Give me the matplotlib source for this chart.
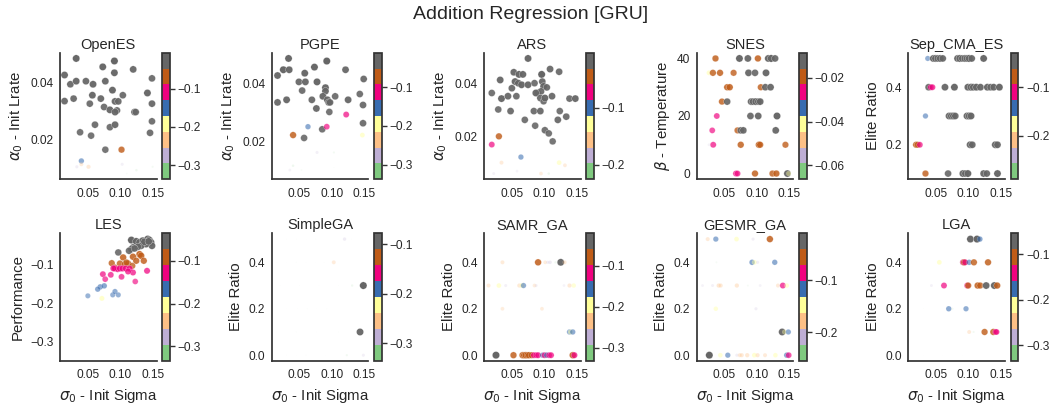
import numpy as np
import matplotlib.pyplot as plt
from matplotlib.colors import Normalize
from matplotlib.cm import ScalarMappable

plt.rcParams['font.family'] = ['Liberation Sans', 'DejaVu Sans']
plt.rcParams['mathtext.fontset'] = 'dejavusans'
plt.rcParams['text.color'] = '#262626'
plt.rcParams['axes.labelcolor'] = '#262626'
plt.rcParams['xtick.color'] = '#262626'
plt.rcParams['ytick.color'] = '#262626'

# ---- OpenES ----
openes_sigma = [0.032, 0.014, 0.091, 0.073, 0.120, 0.091, 0.023, 0.032, 0.047, 0.058,
                0.077, 0.149, 0.014, 0.028, 0.057, 0.053, 0.070, 0.088, 0.092, 0.097,
                0.104, 0.075, 0.084, 0.095, 0.092, 0.122, 0.124, 0.149, 0.142, 0.149,
                0.061, 0.084, 0.092, 0.038, 0.055, 0.146, 0.077,
                0.102, 0.040, 0.051, 0.040, 0.033, 0.103, 0.020, 0.125, 0.150, 0.110]
openes_lrate = [0.0487, 0.0428, 0.0478, 0.0457, 0.0448, 0.0436, 0.0395, 0.0406, 0.0406, 0.0395,
                0.0406, 0.0416, 0.0335, 0.0344, 0.0356, 0.0326, 0.0344, 0.0374, 0.0334, 0.0334,
                0.0356, 0.0314, 0.0304, 0.0302, 0.0296, 0.0296, 0.0296, 0.0326, 0.0364, 0.0263,
                0.0251, 0.0242, 0.0251, 0.0224, 0.0212, 0.0222, 0.0162,
                0.0162, 0.0122, 0.0101, 0.0110, 0.0101, 0.0110, 0.0089, 0.0089, 0.0101, 0.0077]
openes_perf = [-0.012, -0.020, -0.006, -0.015, -0.025, -0.018, -0.030, -0.022, -0.028, -0.019,
               -0.024, -0.033, -0.027, -0.031, -0.021, -0.035, -0.026, -0.017, -0.023, -0.029,
               -0.032, -0.034, -0.020, -0.036, -0.025, -0.030, -0.038, -0.028, -0.016, -0.037,
               -0.033, -0.039, -0.026, -0.040, -0.041, -0.035, -0.043,
               -0.070, -0.150, -0.230, -0.240, -0.275, -0.280, -0.337, -0.300, -0.310, -0.320]

# ---- PGPE ----
pgpe_sigma = [0.033, 0.016, 0.025, 0.034, 0.092, 0.073, 0.121, 0.058, 0.049, 0.059,
              0.077, 0.149, 0.090, 0.090, 0.054, 0.016, 0.030, 0.069, 0.086, 0.105,
              0.093, 0.095, 0.097, 0.125, 0.143, 0.148, 0.076, 0.096, 0.148, 0.085, 0.057,
              0.122, 0.092, 0.063, 0.040, 0.147,
              0.077, 0.103, 0.040, 0.035, 0.022, 0.053, 0.103]
pgpe_lrate = [0.0487, 0.0428, 0.0448, 0.0448, 0.0478, 0.0457, 0.0448, 0.0436, 0.0406, 0.0406,
              0.0406, 0.0416, 0.0386, 0.0374, 0.0376, 0.0335, 0.0344, 0.0344, 0.0356, 0.0356,
              0.0344, 0.0335, 0.0335, 0.0344, 0.0364, 0.0326, 0.0314, 0.0302, 0.0263, 0.0242, 0.0212,
              0.0293, 0.0251, 0.0251, 0.0222, 0.0222,
              0.0162, 0.0162, 0.0116, 0.0101, 0.0089, 0.0101, 0.0110]
pgpe_perf = [-0.020, -0.028, -0.015, -0.024, -0.011, -0.018, -0.030, -0.022, -0.033, -0.026,
             -0.019, -0.035, -0.021, -0.029, -0.038, -0.031, -0.025, -0.034, -0.027, -0.040,
             -0.023, -0.032, -0.036, -0.028, -0.042, -0.037, -0.030, -0.044, -0.039, -0.045, -0.047,
             -0.110, -0.120, -0.150, -0.070, -0.190,
             -0.280, -0.310, -0.300, -0.290, -0.338, -0.320, -0.330]

# ---- ARS ----
ars_sigma = [0.075, 0.053, 0.061, 0.067, 0.109, 0.096, 0.123, 0.032, 0.055, 0.060,
             0.050, 0.065, 0.075, 0.085, 0.097, 0.099, 0.104, 0.090, 0.095, 0.019,
             0.034, 0.044, 0.057, 0.087, 0.094, 0.099, 0.101, 0.112, 0.139, 0.148,
             0.029, 0.048, 0.084, 0.094, 0.124, 0.134, 0.070, 0.121, 0.086, 0.101,
             0.107, 0.113,
             0.030, 0.019, 0.064, 0.123, 0.034, 0.132, 0.095, 0.022, 0.058, 0.107, 0.144]
ars_lrate = [0.0493, 0.0441, 0.0433, 0.0433, 0.0453, 0.0433, 0.0443, 0.0412, 0.0406, 0.0400,
             0.0381, 0.0394, 0.0394, 0.0400, 0.0406, 0.0388, 0.0384, 0.0363, 0.0369, 0.0363,
             0.0342, 0.0351, 0.0351, 0.0363, 0.0344, 0.0332, 0.0344, 0.0351, 0.0342, 0.0342,
             0.0301, 0.0295, 0.0295, 0.0295, 0.0295, 0.0274, 0.0262, 0.0262, 0.0240, 0.0223,
             0.0211, 0.0181,
             0.0200, 0.0169, 0.0122, 0.0101, 0.0101, 0.0091, 0.0060, 0.0060, 0.0069, 0.0060, 0.0091]
ars_perf = [-0.010, -0.015, -0.008, -0.012, -0.018, -0.0023, -0.020, -0.014, -0.011, -0.016,
            -0.019, -0.009, -0.013, -0.022, -0.017, -0.012, -0.021, -0.015, -0.018, -0.024,
            -0.010, -0.016, -0.020, -0.013, -0.019, -0.023, -0.011, -0.017, -0.021, -0.014,
            -0.025, -0.018, -0.022, -0.016, -0.026, -0.020, -0.024, -0.019, -0.027, -0.023,
            -0.025, -0.028,
            -0.045, -0.072, -0.100, -0.130, -0.160, -0.165, -0.168, -0.190, -0.195, -0.200, -0.226]

# ---- SNES ----
snes_sigma = [0.036, 0.073, 0.086, 0.1015, 0.1175, 0.122, 0.128,
              0.026, 0.032, 0.043, 0.064, 0.087, 0.097, 0.114,
              0.054, 0.058, 0.106, 0.113, 0.121,
              0.046, 0.054, 0.091, 0.094, 0.098, 0.102, 0.105,
              0.038, 0.090, 0.102, 0.131,
              0.031, 0.070, 0.075, 0.079, 0.129,
              0.026, 0.0325, 0.075, 0.103, 0.105, 0.144,
              0.0675, 0.070, 0.097, 0.124, 0.130, 0.147, 0.149,
              0.024]
snes_temp = [40, 40, 40, 40, 40, 40, 40,
             35, 35, 35, 35, 35, 35, 35,
             30, 30, 30, 30, 30,
             25, 25, 25, 25, 25, 25, 25,
             20, 20, 20, 20,
             15, 15, 15, 15, 15,
             10, 10, 10, 10, 10, 10,
             0, 0, 0, 0, 0, 0, 0,
             35]
snes_perf = [-0.019, -0.010, -0.012, -0.018, -0.011, -0.0085, -0.013,
             -0.040, -0.020, -0.019, -0.021, -0.012, -0.014, -0.011,
             -0.019, -0.018, -0.020, -0.013, -0.012,
             -0.020, -0.014, -0.012, -0.013, -0.011, -0.014, -0.012,
             -0.027, -0.013, -0.012, -0.010,
             -0.028, -0.021, -0.014, -0.013, -0.012,
             -0.058, -0.026, -0.019, -0.018, -0.020, -0.021,
             -0.027, -0.026, -0.019, -0.020, -0.018, -0.012, -0.042,
             -0.0664]

# ---- Sep_CMA_ES ----
sepcma_sigma = [0.037, 0.0456, 0.049, 0.0524, 0.0563, 0.0602, 0.083, 0.0864, 0.0903, 0.0942,
                0.0976, 0.101, 0.1049, 0.1233,
                0.0383, 0.0417, 0.0442, 0.0636, 0.0782, 0.099, 0.1039, 0.1073, 0.1121, 0.1184,
                0.1291, 0.134, 0.1388, 0.1476,
                0.0335, 0.0699, 0.0733, 0.0767, 0.0796, 0.0976, 0.101, 0.1039,
                0.0189, 0.0214, 0.0248, 0.1024, 0.1058, 0.1413, 0.1447,
                0.0335, 0.0684, 0.0913, 0.0951, 0.099, 0.1233, 0.1282, 0.1447,
                0.015]
sepcma_elite = [0.5, 0.5, 0.5, 0.5, 0.5, 0.5, 0.5, 0.5, 0.5, 0.5,
                0.5, 0.5, 0.5, 0.5,
                0.4, 0.4, 0.4, 0.4, 0.4, 0.4, 0.4, 0.4, 0.4, 0.4,
                0.4, 0.4, 0.4, 0.4,
                0.3, 0.3, 0.3, 0.3, 0.3, 0.3, 0.3, 0.3,
                0.2, 0.2, 0.2, 0.2, 0.2, 0.2, 0.2,
                0.1, 0.1, 0.1, 0.1, 0.1, 0.1, 0.1, 0.1,
                0.1]
sepcma_perf = [-0.150, -0.040, -0.035, -0.045, -0.038, -0.050, -0.042, -0.033, -0.048, -0.037,
               -0.041, -0.030, -0.046, -0.039,
               -0.052, -0.110, -0.105, -0.044, -0.036, -0.040, -0.0295, -0.047, -0.034, -0.043,
               -0.038, -0.049, -0.041, -0.036,
               -0.145, -0.045, -0.050, -0.039, -0.053, -0.042, -0.037, -0.044,
               -0.085, -0.090, -0.110, -0.043, -0.048, -0.040, -0.046,
               -0.080, -0.055, -0.041, -0.047, -0.038, -0.044, -0.051, -0.039,
               -0.289]

# ---- LES (y axis is the performance itself) ----
les_sigma = [0.1172, 0.1247, 0.1298, 0.1348, 0.1424, 0.1449, 0.1475, 0.1490, 0.1399, 0.1323,
             0.1273, 0.1197, 0.1172, 0.1136, 0.1222, 0.0970, 0.1374, 0.1439,
             0.1298, 0.1323, 0.1197, 0.1045, 0.0869, 0.0995, 0.1071, 0.1121, 0.1187, 0.1247,
             0.1364, 0.0919, 0.1096,
             0.0919, 0.0960, 0.0995, 0.1035, 0.1086, 0.1146, 0.0894, 0.1197, 0.1414, 0.0732,
             0.0854, 0.0768, 0.1020, 0.1232, 0.1121,
             0.0692, 0.0753, 0.0652, 0.0500, 0.0884, 0.0919, 0.0970,
             0.0717,
             0.0600]
les_perf = [-0.0382, -0.0416, -0.0442, -0.0399, -0.0357, -0.0382, -0.0442, -0.0528, -0.0485, -0.0528,
            -0.0554, -0.0571, -0.0614, -0.0657, -0.0597, -0.0700, -0.0425, -0.0416,
            -0.0745, -0.0785, -0.0811, -0.0828, -0.0974, -0.0983, -0.1000, -0.0983, -0.1043, -0.0914,
            -0.0914, -0.1086, -0.0957,
            -0.1112, -0.1129, -0.1112, -0.1112, -0.1110, -0.1115, -0.1108, -0.1215, -0.1172, -0.1258,
            -0.1275, -0.1386, -0.1326, -0.1446, -0.1189,
            -0.1584, -0.1558, -0.1644, -0.1815, -0.1790, -0.1704, -0.1790,
            -0.1880,
            -0.3340]

# ---- SimpleGA ----
simplega_sigma = [0.1485, 0.1434, 0.1195, 0.1028, 0.1312, 0.1485, 0.1230,
                  0.015, 0.030, 0.045, 0.060, 0.075, 0.093, 0.130,
                  0.015, 0.030, 0.045, 0.060, 0.075, 0.088,
                  0.020, 0.050, 0.080, 0.110,
                  0.030, 0.047, 0.062, 0.076, 0.092,
                  0.015, 0.045, 0.076, 0.110,
                  0.015, 0.030, 0.045, 0.060, 0.090]
simplega_elite = [0.3, 0.1, 0.5, 0.4, 0.3, 0.0, 0.0,
                  0.5, 0.5, 0.5, 0.5, 0.5, 0.5, 0.5,
                  0.4, 0.4, 0.4, 0.4, 0.4, 0.4,
                  0.3, 0.3, 0.3, 0.3,
                  0.2, 0.2, 0.2, 0.2, 0.2,
                  0.1, 0.1, 0.1, 0.1,
                  0.0, 0.0, 0.0, 0.0, 0.0]
simplega_perf = [-0.0783, -0.090, -0.280, -0.262, -0.310, -0.290, -0.312,
                 -0.330, -0.332, -0.331, -0.333, -0.330, -0.334, -0.332,
                 -0.331, -0.333, -0.330, -0.332, -0.334, -0.331,
                 -0.332, -0.330, -0.333, -0.331,
                 -0.334, -0.332, -0.330, -0.333, -0.331,
                 -0.332, -0.330, -0.333, -0.331,
                 -0.336, -0.332, -0.334, -0.330, -0.333]

# ---- SAMR_GA ----
samr_sigma = [0.0355, 0.0905, 0.1015, 0.1055, 0.1090, 0.1175, 0.1255, 0.1315,
              0.014, 0.030, 0.0405, 0.0615, 0.0655, 0.068, 0.085, 0.0875, 0.1305, 0.139, 0.1455,
              0.0355, 0.0965,
              0.139, 0.1405, 0.144,
              0.0255, 0.0525, 0.0665, 0.069, 0.0715, 0.074, 0.0765, 0.0805, 0.084, 0.0875,
              0.0905, 0.0975, 0.1005, 0.104, 0.1075, 0.1105, 0.144, 0.1465,
              0.020]
samr_elite = [0.4, 0.4, 0.4, 0.4, 0.4, 0.4, 0.4, 0.4,
              0.3, 0.3, 0.3, 0.3, 0.3, 0.3, 0.3, 0.3, 0.3, 0.3, 0.3,
              0.2, 0.2,
              0.1, 0.1, 0.1,
              0.0, 0.0, 0.0, 0.0, 0.0, 0.0, 0.0, 0.0, 0.0, 0.0,
              0.0, 0.0, 0.0, 0.0, 0.0, 0.0, 0.0, 0.0,
              0.5]
samr_perf = [-0.240, -0.070, -0.250, -0.270, -0.260, -0.300, -0.030, -0.240,
             -0.240, -0.200, -0.280, -0.230, -0.190, -0.160, -0.250, -0.280, -0.290, -0.230, -0.210,
             -0.250, -0.250,
             -0.160, -0.190, -0.155,
             -0.0202, -0.075, -0.070, -0.080, -0.065, -0.085, -0.075, -0.090, -0.110, -0.120,
             -0.105, -0.150, -0.115, -0.140, -0.120, -0.110, -0.070, -0.100,
             -0.333]

# ---- GESMR_GA ----
gesmr_sigma = [0.024, 0.0365, 0.0685, 0.094, 0.120,
               0.0375, 0.0925, 0.096, 0.101, 0.1275,
               0.016, 0.0315, 0.041, 0.044, 0.069, 0.086, 0.105, 0.1325, 0.140, 0.146,
               0.0365, 0.0985,
               0.139, 0.1425, 0.1485,
               0.0265, 0.0435, 0.055, 0.069, 0.0735, 0.0765, 0.085, 0.096, 0.101, 0.1125,
               0.1285, 0.146, 0.149,
               0.060]
gesmr_elite = [0.5, 0.5, 0.5, 0.5, 0.5,
               0.4, 0.4, 0.4, 0.4, 0.4,
               0.3, 0.3, 0.3, 0.3, 0.3, 0.3, 0.3, 0.3, 0.3, 0.3,
               0.2, 0.2,
               0.1, 0.1, 0.1,
               0.0, 0.0, 0.0, 0.0, 0.0, 0.0, 0.0, 0.0, 0.0, 0.0,
               0.0, 0.0, 0.0,
               0.2]
gesmr_perf = [-0.180, -0.120, -0.150, -0.210, -0.050,
              -0.240, -0.110, -0.150, -0.210, -0.115,
              -0.220, -0.215, -0.170, -0.175, -0.170, -0.240, -0.220, -0.180, -0.085, -0.155,
              -0.160, -0.210,
              -0.020, -0.160, -0.120,
              -0.0091, -0.155, -0.120, -0.210, -0.180, -0.175, -0.170, -0.150, -0.175, -0.180,
              -0.155, -0.110, -0.090,
              -0.256]

# ---- LGA ----
lga_sigma = [0.1029, 0.1131, 0.1175,
             0.0549, 0.0913, 0.0932, 0.0947, 0.1010, 0.1083, 0.1301,
             0.0427, 0.0621, 0.0981, 0.0995, 0.1141, 0.1180, 0.1272, 0.1398, 0.1442,
             0.0694, 0.0752, 0.0961,
             0.1010, 0.1078, 0.1248, 0.1383, 0.1417, 0.1432,
             0.015, 0.030, 0.060, 0.090, 0.020, 0.030, 0.045]
lga_elite = [0.5, 0.5, 0.5,
             0.4, 0.4, 0.4, 0.4, 0.4, 0.4, 0.4,
             0.3, 0.3, 0.3, 0.3, 0.3, 0.3, 0.3, 0.3, 0.3,
             0.2, 0.2, 0.2,
             0.1, 0.1, 0.1, 0.1, 0.1, 0.1,
             0.5, 0.0, 0.0, 0.0, 0.1, 0.2, 0.4]
lga_perf = [-0.060, -0.0544, -0.170,
            -0.210, -0.140, -0.110, -0.135, -0.170, -0.110, -0.105,
            -0.290, -0.140, -0.130, -0.115, -0.100, -0.110, -0.070, -0.065, -0.100,
            -0.175, -0.310, -0.180,
            -0.250, -0.310, -0.110, -0.105, -0.140, -0.145,
            -0.334, -0.330, -0.332, -0.331, -0.333, -0.330, -0.332]

titles = ['OpenES', 'PGPE', 'ARS', 'SNES', 'Sep_CMA_ES',
          'LES', 'SimpleGA', 'SAMR_GA', 'GESMR_GA', 'LGA']
ylabels = [r'$\alpha_0$ - Init Lrate', r'$\alpha_0$ - Init Lrate', r'$\alpha_0$ - Init Lrate',
           r'$\beta$ - Temperature', 'Elite Ratio',
           'Performance', 'Elite Ratio', 'Elite Ratio', 'Elite Ratio', 'Elite Ratio']
xs = [openes_sigma, pgpe_sigma, ars_sigma, snes_sigma, sepcma_sigma,
      les_sigma, simplega_sigma, samr_sigma, gesmr_sigma, lga_sigma]
ys = [openes_lrate, pgpe_lrate, ars_lrate, snes_temp, sepcma_elite,
      les_perf, simplega_elite, samr_elite, gesmr_elite, lga_elite]
perfs = [openes_perf, pgpe_perf, ars_perf, snes_perf, sepcma_perf,
         les_perf, simplega_perf, samr_perf, gesmr_perf, lga_perf]
yticks = [[0.02, 0.04], [0.02, 0.04], [0.02, 0.04], [0, 20, 40], [0.2, 0.4],
          [-0.3, -0.2, -0.1], [0.0, 0.2, 0.4], [0.0, 0.2, 0.4], [0.0, 0.2, 0.4], [0.0, 0.2, 0.4]]
cticks = [[-0.3, -0.2, -0.1], [-0.3, -0.2, -0.1], [-0.2, -0.1], [-0.06, -0.04, -0.02], [-0.2, -0.1],
          [-0.3, -0.2, -0.1], [-0.3, -0.2, -0.1], [-0.3, -0.2, -0.1], [-0.2, -0.1], [-0.3, -0.2, -0.1]]
xticks = [0.05, 0.10, 0.15]

W, H = 1061, 404
fig = plt.figure(figsize=(W / 100, H / 100), dpi=100)
cmap = plt.get_cmap('Accent')

col_left = [60, 271.7, 484, 696.7, 908.3]
row_top = [52.7, 233.3]
row_h = [126.6, 127.7]
ax_w = 96.5
cb_off = 102.3
cb_w = 7.7
edge = '#333333'

for i in range(10):
    r, c = divmod(i, 5)
    b = (H - row_top[r] - row_h[r]) / H
    h = row_h[r] / H
    ax = fig.add_axes([col_left[c] / W, b, ax_w / W, h])
    cax = fig.add_axes([(col_left[c] + cb_off) / W, b, cb_w / W, h])

    p = np.array(perfs[i])
    norm = Normalize(vmin=p.min(), vmax=p.max())
    n = (p - p.min()) / (p.max() - p.min())
    ax.scatter(xs[i], ys[i], c=p, cmap=cmap, norm=norm, s=n * 28, alpha=n,
               edgecolors='white', linewidths=0.2)

    ax.set_xlim(0.007, 0.156)
    ax.set_xticks(xticks)
    ax.set_yticks(yticks[i])
    ax.tick_params(axis='both', length=0, labelsize=8.6)
    ax.tick_params(axis='y', pad=4.5)
    ax.tick_params(axis='x', pad=6)
    for s in ['top', 'right']:
        ax.spines[s].set_visible(False)
    for s in ['left', 'bottom']:
        ax.spines[s].set_linewidth(1.25)
        ax.spines[s].set_color(edge)
    ax.set_title(titles[i], fontsize=10.5, pad=3)
    ax.set_ylabel(ylabels[i], fontsize=10.8)
    if r == 1:
        ax.set_xlabel(r'$\sigma_0$ - Init Sigma', fontsize=10.8)

    cb = fig.colorbar(ScalarMappable(norm=norm, cmap=cmap), cax=cax)
    cb.set_ticks(cticks[i])
    cb.outline.set_linewidth(1.25)
    cb.outline.set_edgecolor(edge)
    cax.tick_params(length=3.5, width=1, labelsize=8.6, pad=2, color=edge)

fig.suptitle('Addition Regression [GRU]', fontsize=14, y=0.985, va='top')
fig.savefig('out.png', dpi=100)
